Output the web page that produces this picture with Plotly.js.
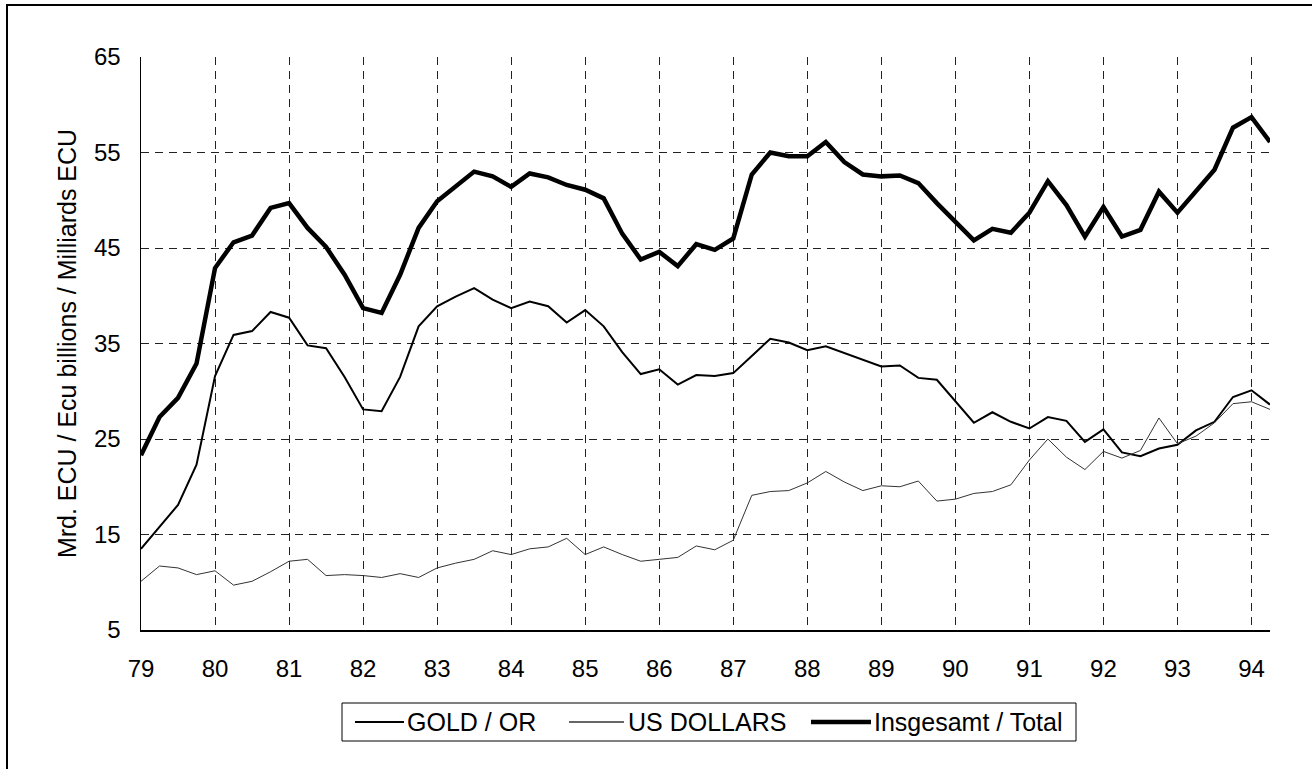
<!DOCTYPE html>
<html>
<head>
<meta charset="utf-8">
<script src="https://cdn.plot.ly/plotly-3.0.1.min.js"></script>
<style>
  html, body { margin: 0; padding: 0; background: #fff; overflow: hidden; }
  #wrap { position: relative; width: 1312px; height: 769px; overflow: hidden; }
  #chart { width: 1312px; height: 769px; }
  #frame { position: absolute; left: 6px; top: 4px; width: 3000px; height: 3000px;
           border-top: 2px solid #000; border-left: 2px solid #000; pointer-events: none; }
</style>
</head>
<body>
<div id="wrap">
  <div id="chart"></div>
  <div id="frame"></div>
</div>
<script>
// Quarterly observations, 1979 Q1 .. 1994 Q2
const quarters = [
  79, 79.25, 79.5, 79.75, 80, 80.25, 80.5, 80.75, 81, 81.25, 81.5, 81.75,
  82, 82.25, 82.5, 82.75, 83, 83.25, 83.5, 83.75, 84, 84.25, 84.5, 84.75,
  85, 85.25, 85.5, 85.75, 86, 86.25, 86.5, 86.75, 87, 87.25, 87.5, 87.75,
  88, 88.25, 88.5, 88.75, 89, 89.25, 89.5, 89.75, 90, 90.25, 90.5, 90.75,
  91, 91.25, 91.5, 91.75, 92, 92.25, 92.5, 92.75, 93, 93.25, 93.5, 93.75,
  94, 94.25
];

const gold = [
  13.5, 15.8, 18.1, 22.3, 31.6, 35.9, 36.3, 38.3, 37.7, 34.8, 34.5, 31.5,
  28.1, 27.9, 31.5, 36.8, 38.9, 39.9, 40.8, 39.6, 38.7, 39.4, 38.9, 37.2,
  38.5, 36.8, 34.1, 31.8, 32.3, 30.7, 31.7, 31.6, 31.9, 33.7, 35.5, 35.1,
  34.3, 34.7, 34.0, 33.3, 32.6, 32.7, 31.4, 31.2, 28.9, 26.7, 27.8, 26.8,
  26.1, 27.3, 26.9, 24.7, 26.0, 23.6, 23.2, 24.0, 24.4, 25.9, 26.8, 29.4,
  30.1, 28.6
];

const usDollars = [
  10.1, 11.7, 11.5, 10.8, 11.2, 9.7, 10.1, 11.1, 12.2, 12.4, 10.7, 10.8,
  10.7, 10.5, 10.9, 10.5, 11.5, 12.0, 12.4, 13.3, 12.9, 13.5, 13.7, 14.6,
  12.9, 13.7, 12.9, 12.2, 12.4, 12.6, 13.8, 13.4, 14.4, 19.1, 19.5, 19.6,
  20.4, 21.6, 20.5, 19.6, 20.1, 20.0, 20.6, 18.5, 18.7, 19.3, 19.5, 20.2,
  22.8, 25.0, 23.1, 21.8, 23.7, 23.0, 23.8, 27.2, 24.5, 25.3, 26.7, 28.7,
  28.9, 28.1
];

const total = [
  23.3, 27.3, 29.3, 32.9, 42.9, 45.6, 46.3, 49.2, 49.7, 47.1, 45.1, 42.2,
  38.7, 38.2, 42.2, 47.1, 49.9, 51.4, 53.0, 52.5, 51.4, 52.8, 52.4, 51.6,
  51.1, 50.2, 46.5, 43.8, 44.6, 43.1, 45.4, 44.8, 46.0, 52.7, 55.0, 54.6,
  54.6, 56.1, 54.0, 52.7, 52.5, 52.6, 51.8, 49.7, 47.8, 45.8, 47.0, 46.6,
  48.7, 52.0, 49.5, 46.2, 49.3, 46.2, 46.9, 50.9, 48.7, 51.0, 53.2, 57.6,
  58.7, 56.1
];

const seriesNames = ["GOLD / OR", "US DOLLARS", "Insgesamt / Total"];
const xTickVals = [79, 80, 81, 82, 83, 84, 85, 86, 87, 88, 89, 90, 91, 92, 93, 94];
const xTickText = ["79", "80", "81", "82", "83", "84", "85", "86", "87", "88", "89", "90", "91", "92", "93", "94"];
const yTickVals = [5, 15, 25, 35, 45, 55, 65];
const yTitle = "Mrd. ECU / Ecu billions / Milliards ECU";

const FONT = "Arial, 'Liberation Sans', sans-serif";
const lineWidths = [2, 1, 4.5];
const lineColors = ["#000", "#333", "#000"];

const W = 1312, H = 769;
const M = { l: 141, r: 42, t: 57, b: 139 };
const plotW = W - M.l - M.r, plotH = H - M.t - M.b;
const px = x => (x - M.l) / plotW;          // page x pixel -> paper x
const py = y => (H - M.b - y) / plotH;      // page y pixel -> paper y

const traces = seriesNames.map((name, i) => ({
  x: quarters, y: [gold, usDollars, total][i], name: name,
  type: "scatter", mode: "lines",
  line: { color: lineColors[i], width: lineWidths[i] }
}));

// custom legend box (matching the reference's long sample lines)
const legBox = { x0: 342, x1: 1076, y0: 703, y1: 741 };
const legMid = 722;
const legItems = [
  { l0: 355, l1: 404, t: 406 },
  { l0: 569, l1: 624, t: 627 },
  { l0: 811, l1: 871, t: 873 }
];
const shapes = [
  { type: "rect", xref: "paper", yref: "paper",
    x0: px(legBox.x0), x1: px(legBox.x1), y0: py(legBox.y1), y1: py(legBox.y0),
    line: { color: "#000", width: 1 }, fillcolor: "#fff", layer: "above" }
];
const annotations = [];
legItems.forEach((it, i) => {
  shapes.push({ type: "line", xref: "paper", yref: "paper",
    x0: px(it.l0), x1: px(it.l1), y0: py(legMid), y1: py(legMid),
    line: { color: lineColors[i], width: lineWidths[i] + (i === 1 ? 0.3 : 0) }, layer: "above" });
  annotations.push({ xref: "paper", yref: "paper", x: px(it.t), y: py(legMid),
    xanchor: "left", yanchor: "middle", text: seriesNames[i], showarrow: false,
    borderpad: 0, font: { family: FONT, size: 25, color: "#000" } });
});

const layout = {
  width: W, height: H,
  margin: M,
  paper_bgcolor: "#fff", plot_bgcolor: "#fff",
  font: { family: FONT, color: "#000", size: 24 },
  showlegend: false,
  shapes: shapes,
  annotations: annotations,
  xaxis: {
    range: [79, 94.25], tickvals: xTickVals, ticktext: xTickText,
    showgrid: true, gridcolor: "#222", gridwidth: 1, griddash: "8px,6px",
    showline: true, linecolor: "#000", linewidth: 1.5, mirror: false,
    ticks: "", zeroline: false, tickfont: { size: 24, family: FONT },
    ticklabelstandoff: 17
  },
  yaxis: {
    range: [5, 65], tickvals: yTickVals,
    showgrid: true, gridcolor: "#222", gridwidth: 1, griddash: "8px,6px",
    showline: true, linecolor: "#000", linewidth: 1.5, mirror: false,
    ticks: "", zeroline: false, tickfont: { size: 24, family: FONT },
    ticklabelstandoff: 14,
    title: { text: yTitle, font: { size: 25, family: FONT }, standoff: 10 }
  }
};

Plotly.newPlot("chart", traces, layout, { displayModeBar: false, staticPlot: true });
</script>
</body>
</html>
